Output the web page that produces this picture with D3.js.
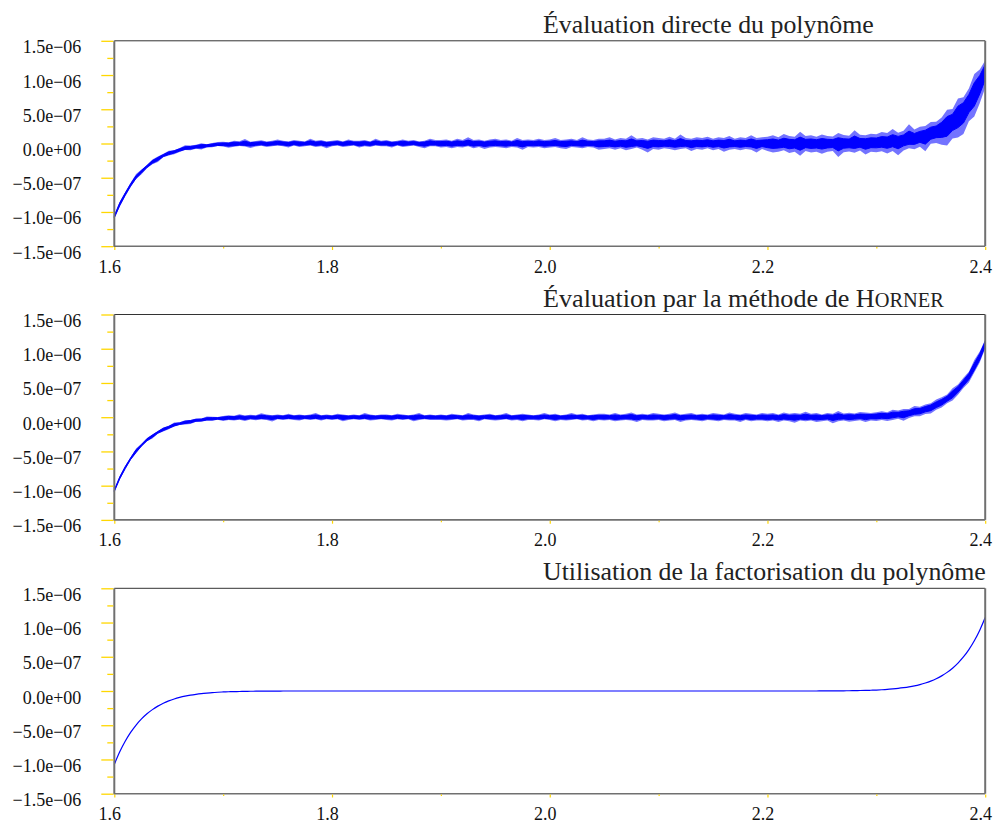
<!DOCTYPE html>
<html><head><meta charset="utf-8">
<script src="https://cdn.jsdelivr.net/npm/d3@7"></script>
<style>body{margin:0;background:#fff} svg{display:block}</style>
</head><body><svg id="c" width="993" height="824"></svg>
<script>
// ---- data ----
const titles = [
  ["Évaluation directe du polynôme"],
  ["Évaluation par la méthode de ", "H", "ORNER"],
  ["Utilisation de la factorisation du polynôme"]
];
const xStart = 1.6, xStep = 0.005, nSamples = 161;
// smooth curve, units of 1e-9
const center = [
  -1074,-889,-734,-605,-497,-408,-333,-272,-221,-179,-145,-117,-94,-75,-60,-48,-38,-30,-23,-18,-14,-11,-9,-7,-5,-4,-3,-2,-2,-1,-1,
  0,0,0,0,0,0,0,0,0,0, 0,0,0,0,0,0,0,0,0,0, 0,0,0,0,0,0,0,0,0,0,
  0,0,0,0,0,0,0,0,0,0, 0,0,0,0,0,0,0,0,0,0, 0,0,0,0,0,0,0,0,0,0,
  0,0,0,0,0,0,0,0,0,0, 0,0,0,0,0,0,0,0,0,0, 0,0,0,0,0,0,0,0,0,0,
  0,0,0,0,0,0,0,0,0,
  1,1,2,2,3,4,5,7,9,11,14,18,23,30,38,48,60,75,94,117,145,179,221,272,333,408,497,605,734,889,1074
];
// noise band of the direct evaluation, units of 1e-8 (above / below the curve)
const upDirect = [
  3,4,2,3,5,3,2,4,3,3,4,2,3,5,3,3,4,2,3,4,
  4,3,5,4,7,3,4,5,3,4,6,4,3,5,4,3,7,4,5,3,4,5,3,6,4,4,5,3,7,4,5,3,4,6,4,5,3,4,7,5,
  5,6,4,7,5,9,5,6,4,6,7,5,6,4,8,5,6,5,7,5,6,8,5,6,7,5,9,6,5,7,
  7,9,6,8,7,12,7,8,6,9,8,7,10,7,13,8,7,9,8,10,7,9,8,11,7,9,8,12,8,9,
  10,12,9,14,11,10,17,11,12,10,13,11,10,15,12,11,19,12,11,13,
  12,15,13,18,12,14,22,13,15,14,17,14,
  16,22,17,25,18,20,28,19,14
];
const downDirect = [
  2,3,4,3,2,4,3,3,5,2,3,4,3,2,4,3,5,3,3,2,
  3,5,4,3,4,6,4,3,5,4,3,4,6,3,5,4,3,5,4,7,4,3,5,4,3,6,4,5,3,4,4,6,3,5,4,3,5,7,4,4,
  6,5,7,5,6,4,7,5,8,6,5,6,7,5,6,9,5,6,5,7,6,5,7,8,5,6,7,5,6,9,
  8,7,9,7,10,8,6,9,13,8,9,7,8,10,8,7,11,8,9,7,10,8,12,9,8,10,8,9,13,8,
  11,13,12,10,14,12,18,11,13,12,15,12,11,20,13,12,14,11,17,13,
  14,13,17,14,21,15,13,16,14,23,15,17,
  24,30,26,32,36,28,34,30,26
];
// noise band of the Horner evaluation, units of 1e-8
const upHorner = [
  2,3,2,2,4,2,3,2,2,3,2,4,2,3,2,3,2,4,3,2,
  3,4,3,5,3,4,3,6,4,3,4,3,5,3,4,3,4,6,3,4,3,5,4,3,4,3,6,4,3,4,4,3,5,4,3,4,6,3,4,3,
  4,3,5,4,3,6,4,3,4,5,3,4,6,3,4,5,4,3,4,6,4,5,3,4,6,4,5,3,4,5,
  5,4,6,4,5,7,4,5,4,6,5,4,5,7,4,5,6,4,5,4,6,5,4,7,5,4,6,5,4,6,
  5,6,4,7,5,6,5,8,5,6,4,6,5,9,5,6,5,7,6,5,
  6,7,5,8,6,7,6,9,6,7,6,8,
  7,6,9,7,8,6,10,7,6
];
const downHorner = [
  2,2,3,2,3,2,2,4,2,3,3,2,2,3,4,2,3,2,3,2,
  4,3,4,3,5,3,4,3,4,6,3,4,3,4,5,3,4,3,5,3,4,3,6,4,3,4,3,5,4,3,4,5,3,4,3,6,4,3,4,4,
  4,5,4,3,5,4,4,6,3,4,5,4,3,5,4,6,4,4,5,3,4,6,4,5,4,3,5,4,6,4,
  5,4,6,5,4,5,7,4,5,5,4,6,5,4,7,5,4,5,6,4,5,6,4,5,5,7,4,6,5,5,
  6,5,7,5,6,8,5,6,5,7,6,5,9,6,5,7,6,5,8,6,
  7,6,8,7,6,10,7,6,8,7,9,7,
  8,7,9,8,7,10,8,9,7
];
const yTickValues = [-1.5e-6,-1.0e-6,-5e-7,0,5e-7,1.0e-6,1.5e-6];
const yTickLabels = ["−1.5e−06","−1.0e−06","−5.0e−07","0.0e+00","5.0e−07","1.0e−06","1.5e−06"];
const yMinorTicks = [-1.25e-6,-7.5e-7,-2.5e-7,2.5e-7,7.5e-7,1.25e-6];
const xTickValues = [1.6,1.8,2.0,2.2,2.4];
const xTickLabels = ["1.6","1.8","2.0","2.2","2.4"];
const xMinorTicks = [1.7,1.9,2.1,2.3];

[center, upDirect, downDirect, upHorner, downHorner].forEach((a, k) => {
  if (a.length !== nSamples) throw new Error("array " + k + " has length " + a.length);
});

// ---- layout ----
const svg = d3.select("#c");
const left = 114.3, right = 985.2, panelH = 205.4;
const panelTops = [40.8, 314.5, 588.3];
const titleX = 543, titleWidths = [331, 401, 443];
const serif = "'Liberation Serif','Times New Roman',serif";
const bands = [[upDirect, downDirect], [upHorner, downHorner], null];
const xs = d3.range(nSamples).map(i => xStart + i * xStep);
const x = d3.scaleLinear([1.6, 2.4], [left, right]);

panelTops.forEach((top, p) => {
  const bottom = top + panelH;
  const y = d3.scaleLinear([-1.5e-6, 1.5e-6], [bottom, top]);
  const g = svg.append("g");

  // data
  const band = bands[p];
  if (band) {
    const [up, down] = band;
    const mk = k => d3.area()
      .x((d, i) => x(xs[i]))
      .y0((d, i) => y(center[i] * 1e-9 - k * down[i] * 1e-8))
      .y1((d, i) => y(center[i] * 1e-9 + k * up[i] * 1e-8));
    // outer fringe (spikes) and solid core
    g.append("path").datum(center).attr("d", mk(1))
      .attr("fill", "#0000ff").attr("fill-opacity", 0.55).attr("stroke", "none");
    g.append("path").datum(center).attr("d", mk(0.55))
      .attr("fill", "#0000ff").attr("stroke", "#0000ff").attr("stroke-width", 1);
  } else {
    const line = d3.line().x((d, i) => x(xs[i])).y(d => y(d * 1e-9)).curve(d3.curveMonotoneX);
    g.append("path").datum(center).attr("d", line)
      .attr("fill", "none").attr("stroke", "#0000ff").attr("stroke-width", 1.2);
  }

  // frame
  g.append("line").attr("x1", left).attr("x2", right).attr("y1", top).attr("y2", top)
    .attr("stroke", "#333").attr("stroke-width", 1);
  g.append("line").attr("x1", left).attr("x2", right).attr("y1", bottom).attr("y2", bottom)
    .attr("stroke", "#707070").attr("stroke-width", 1.6);
  g.append("line").attr("x1", right).attr("x2", right).attr("y1", top).attr("y2", bottom)
    .attr("stroke", "#707070").attr("stroke-width", 2);
  g.append("line").attr("x1", left).attr("x2", left).attr("y1", top).attr("y2", bottom + 0.8)
    .attr("stroke", "#707070").attr("stroke-width", 2);

  // y axis
  const ya = g.append("g").attr("transform", `translate(${left - 1},0)`)
    .call(d3.axisLeft(y).tickValues(yTickValues).tickSize(12).tickPadding(20)
      .tickFormat((d, i) => yTickLabels[i]));
  ya.select(".domain").remove();
  ya.selectAll("line").attr("stroke", "#ffd700").attr("stroke-width", 1.3);
  ya.selectAll("text").attr("dy", null).attr("y", 12)
    .attr("font-family", serif).attr("font-size", 18).attr("fill", "#111");
  const ym = g.append("g").attr("transform", `translate(${left - 1},0)`)
    .call(d3.axisLeft(y).tickValues(yMinorTicks).tickSize(6).tickFormat(""));
  ym.select(".domain").remove();
  ym.selectAll("line").attr("stroke", "#ffd700").attr("stroke-width", 1.3);

  // x axis
  const xa = g.append("g").attr("transform", `translate(0,${bottom + 0.8})`)
    .call(d3.axisBottom(x).tickValues(xTickValues).tickSize(3).tickPadding(0)
      .tickFormat((d, i) => xTickLabels[i]));
  xa.select(".domain").remove();
  xa.selectAll("line").attr("stroke", "#ffd700").attr("stroke-width", 1.2);
  xa.selectAll("text").attr("dy", null).attr("y", 25.5).attr("x", -5)
    .attr("font-family", serif).attr("font-size", 18).attr("fill", "#111");
  const xm = g.append("g").attr("transform", `translate(0,${bottom + 0.8})`)
    .call(d3.axisBottom(x).tickValues(xMinorTicks).tickSize(1.5).tickFormat(""));
  xm.select(".domain").remove();
  xm.selectAll("line").attr("stroke", "#ffd700").attr("stroke-width", 1.2);

  // title
  const parts = titles[p];
  const t = g.append("text").attr("x", titleX).attr("y", top - 8)
    .attr("font-family", serif).attr("font-size", 24).attr("fill", "#222");
  t.append("tspan").text(parts[0]);
  if (parts.length > 1) {
    t.append("tspan").text(parts[1]);
    t.append("tspan").attr("font-size", "0.78em").text(parts[2]);
  }
  const w = t.node().getComputedTextLength();
  t.attr("font-size", 24 * titleWidths[p] / w);
});
</script></body></html>
